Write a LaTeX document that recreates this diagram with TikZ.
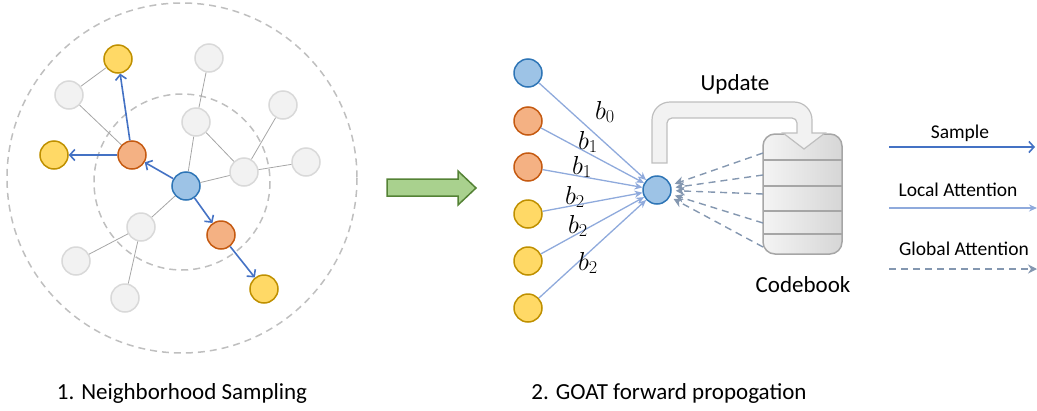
\RequirePackage{fix-cm}
\documentclass[tikz,border=0pt]{standalone}
\usepackage{fontspec}
\setmainfont{Carlito}
\usetikzlibrary{arrows.meta}
\definecolor{gfill}{HTML}{F2F2F2}
\definecolor{gdraw}{HTML}{D9D9D9}
\definecolor{gedge}{HTML}{A6A6A6}
\definecolor{bfill}{HTML}{9DC3E6}
\definecolor{bdraw}{HTML}{2E75B6}
\definecolor{ofill}{HTML}{F4B183}
\definecolor{odraw}{HTML}{C55A11}
\definecolor{yfill}{HTML}{FFD966}
\definecolor{ydraw}{HTML}{BF9000}
\definecolor{samplec}{HTML}{4472C4}
\definecolor{localc}{HTML}{8FAADC}
\definecolor{globalc}{HTML}{8497B0}
\definecolor{ringc}{HTML}{BFBFBF}
\definecolor{grfill}{HTML}{A9D18E}
\definecolor{grdraw}{HTML}{548235}
\definecolor{cbdraw}{HTML}{A6A6A6}
\definecolor{cbleft}{HTML}{F4F4F4}
\definecolor{cbright}{HTML}{D6D6D6}
\tikzset{
  nd/.style={circle,minimum size=28pt,inner sep=0pt,line width=1.5pt},
  gnode/.style={nd,fill=gfill,draw=gdraw},
  bnode/.style={nd,fill=bfill,draw=bdraw},
  onode/.style={nd,fill=ofill,draw=odraw},
  ynode/.style={nd,fill=yfill,draw=ydraw},
  gline/.style={draw=gedge,line width=0.8pt},
  samplearr/.style={draw=samplec,line width=1.6pt,-{Straight Barb[length=5pt,width=11pt,line width=1.6pt]}},
  localarr/.style={draw=localc,line width=1.3pt,-{Stealth[length=8pt,width=7pt]}},
  globalarr/.style={draw=globalc,line width=1.4pt,dash pattern=on 7pt off 5pt,-{Stealth[length=9pt,width=9pt]}},
  ring/.style={draw=ringc,line width=1.5pt,dash pattern=on 7pt off 5pt},
  bigtxt/.style={font=\fontsize{23}{27}\selectfont,inner sep=0pt,anchor=base},
  legtxt/.style={font=\fontsize{19.5}{23}\selectfont,inner sep=0pt,anchor=base},
  blab/.style={font=\fontsize{26}{30}\selectfont,inner sep=0pt}
}
\begin{document}
\begin{tikzpicture}[x=1pt,y=-1pt]
\useasboundingbox (0,0) rectangle (1037,410);
% rings
\draw[ring] (182,178) circle[radius=175];
\draw[ring] (182,182) circle[radius=88];
% left panel nodes
\node[bnode] (c) at (186,186) {};
\node[onode] (o1) at (132,155) {};
\node[onode] (o2) at (221,235) {};
\node[ynode] (y1) at (118,59) {};
\node[ynode] (y2) at (54,155) {};
\node[ynode] (y3) at (264,289) {};
\node[gnode] (g1) at (69,95) {};
\node[gnode] (g2) at (209,58) {};
\node[gnode] (g3) at (196,122) {};
\node[gnode] (g4) at (283,105) {};
\node[gnode] (g5) at (244,172) {};
\node[gnode] (g6) at (306,162) {};
\node[gnode] (g7) at (141,227) {};
\node[gnode] (g8) at (76,261) {};
\node[gnode] (g9) at (125,298) {};
\draw[gline] (y1) -- (g1);
\draw[gline] (g1) -- (o1);
\draw[gline] (g2) -- (g3);
\draw[gline] (g3) -- (c);
\draw[gline] (g3) -- (g5);
\draw[gline] (g4) -- (g5);
\draw[gline] (g5) -- (g6);
\draw[gline] (c) -- (g5);
\draw[gline] (c) -- (g7);
\draw[gline] (g7) -- (g8);
\draw[gline] (g7) -- (g9);
\draw[samplearr] (c) -- (o1);
\draw[samplearr] (o1) -- (y1);
\draw[samplearr] (o1) -- (y2);
\draw[samplearr] (c) -- (o2);
\draw[samplearr] (o2) -- (y3);
\node[bigtxt] (lab1) at (182,399) {1. Neighborhood Sampling};
% green arrow
\draw[fill=grfill,draw=grdraw,line width=1.5pt,line join=miter] (387,179) -- (458,179) -- (458,171) -- (476,188) -- (458,205) -- (458,196) -- (387,196) -- cycle;
% codebook
\shade[left color=cbleft,right color=cbright,rounded corners=12pt] (763,134) rectangle (842,254);
\draw[draw=cbdraw,line width=1.5pt,rounded corners=12pt] (763,134) rectangle (842,254);
\foreach \yy in {160,186,211,234} \draw[draw=cbdraw,line width=1.5pt] (763,\yy) -- (842,\yy);
\node[bigtxt] (cbl) at (803,292) {Codebook};
% update arrow
\draw[fill=gfill,draw=ringc,line width=1.2pt,line join=miter]
  (652,163) [rounded corners=18pt] -- (652,102) -- (812,102) [sharp corners] -- (812,133) -- (825,133) -- (804,149) -- (783,133) -- (797,133) [rounded corners=5pt] -- (797,118) -- (667,118) [sharp corners] -- (667,163) -- cycle;
\node[bigtxt] (upd) at (735,90) {Update};
% middle nodes
\node[bnode] (t) at (657,190) {};
\node[bnode] (m0) at (528,73) {};
\node[onode] (m1) at (528,121) {};
\node[onode] (m2) at (528,167) {};
\node[ynode] (m3) at (528,214) {};
\node[ynode] (m4) at (528,261) {};
\node[ynode] (m5) at (528,308) {};
\foreach \m in {m0,m1,m2,m3,m4,m5} \draw[localarr] (\m) -- (t);
\node[blab] at (605,112) {$b_0$};
\node[blab] at (588,142) {$b_1$};
\node[blab] at (582,167) {$b_1$};
\node[blab] at (575,197) {$b_2$};
\node[blab] at (578,226) {$b_2$};
\node[blab] at (588,263) {$b_2$};
\coordinate (cb1) at (763,153);
\coordinate (cb2) at (763,175);
\coordinate (cb3) at (763,194);
\coordinate (cb4) at (763,223);
\coordinate (cb5) at (763,247);
\foreach \k in {cb1,cb2,cb3,cb4,cb5} \draw[globalarr,shorten >=4pt] (\k) -- (t);
\node[bigtxt] (lab2) at (669,399) {2. GOAT forward propogation};
% legend
\coordinate (s0) at (889,147); \coordinate (s1) at (1035,147);
\coordinate (l0) at (889,208); \coordinate (l1) at (1037,208);
\coordinate (q0) at (889,269); \coordinate (q1) at (1037,269);
\draw[samplearr] (s0) -- (s1);
\draw[localarr] (l0) -- (l1);
\draw[globalarr] (q0) -- (q1);
\node[legtxt] (ls) at (960,138) {Sample};
\node[legtxt] (ll) at (958,196) {Local Attention};
\node[legtxt] (lg) at (964,255) {Global Attention};
\end{tikzpicture}
\end{document}
